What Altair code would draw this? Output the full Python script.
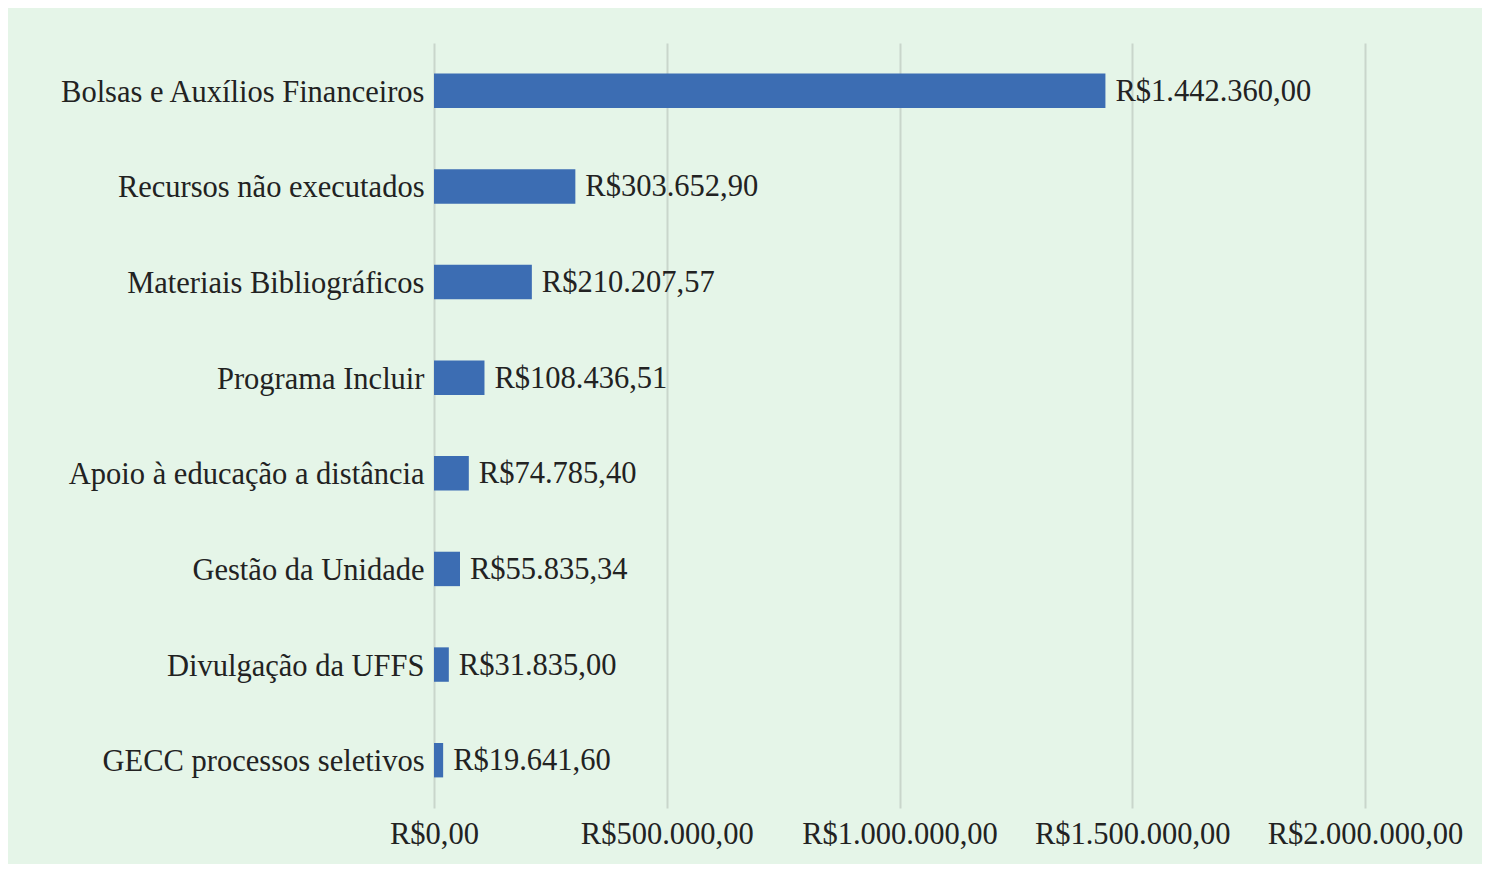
import altair as alt
import pandas as pd

categories = [
    "Bolsas e Auxílios Financeiros",
    "Recursos não executados",
    "Materiais Bibliográficos",
    "Programa Incluir",
    "Apoio à educação a distância",
    "Gestão da Unidade",
    "Divulgação da UFFS",
    "GECC processos seletivos",
]
values = [1442360.00, 303652.90, 210207.57, 108436.51, 74785.40, 55835.34, 31835.00, 19641.60]
tick_values = [0, 500000, 1000000, 1500000, 2000000]
tick_labels = ["R$0,00", "R$500.000,00", "R$1.000.000,00", "R$1.500.000,00", "R$2.000.000,00"]


def brl(v):
    s = f"{v:,.2f}"
    return "R$" + s.replace(",", "_").replace(".", ",").replace("_", ".")


df = pd.DataFrame({"cat": categories, "val": values, "label": [brl(v) for v in values]})

expr = "''"
for tv, tl in reversed(list(zip(tick_values, tick_labels))):
    expr = f"datum.value == {tv} ? '{tl}' : ({expr})"

FONT = "Liberation Serif"
FS = 30.5
TXT = "#222222"

base = alt.Chart(df).encode(
    y=alt.Y("cat:N", sort=categories, title=None,
            scale=alt.Scale(paddingInner=0.64, paddingOuter=0.32),
            axis=alt.Axis(domain=False, ticks=False, labelFont=FONT, labelFontSize=FS,
                          labelColor=TXT, labelPadding=10, grid=False, labelLimit=500,
                          labelOffset=2)),
)

bars = base.mark_bar(color="#3C6DB3").encode(
    x=alt.X("val:Q", title=None,
            scale=alt.Scale(domain=[0, 2000000], nice=False, zero=True),
            axis=alt.Axis(values=tick_values, labelExpr=expr, domain=False, ticks=False,
                          labelFont=FONT, labelFontSize=FS, labelColor=TXT, labelPadding=11,
                          labelLimit=400, labelOverlap=False,
                          grid=True, gridColor="#C9D6CB", gridWidth=2, labelFlush=False)),
)

texts = base.mark_text(align="left", baseline="middle", dx=10, dy=1, font=FONT, fontSize=FS, color=TXT).encode(
    x=alt.X("val:Q"),
    text="label:N",
)

chart = (bars + texts).properties(
    width=931, height=765,
    background="#E5F5E8",
    autosize=alt.AutoSizeParams(type="none"),
    padding={"left": 426, "top": 35, "right": 117, "bottom": 56},
).configure_view(stroke=None)

chart.save("out.html", embed_options={"renderer": "svg", "actions": False})
